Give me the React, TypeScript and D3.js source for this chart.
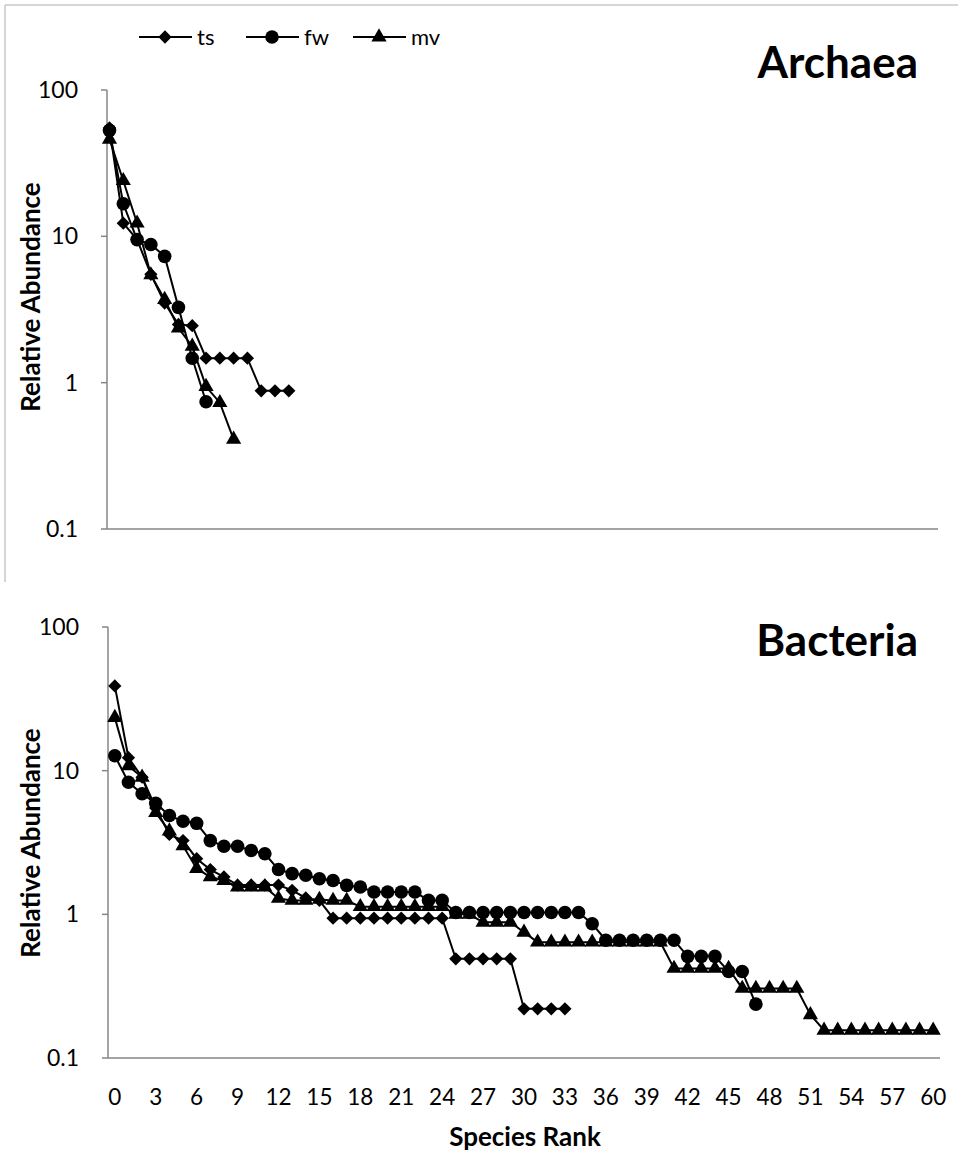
import React from "react";
import * as d3 from "d3";

// ---------- data ----------
const seriesNames = ["ts", "fw", "mv"];
const yTickValues = [100, 10, 1, 0.1];
const yTickLabels = ["100", "10", "1", "0.1"];
const xTickValues = d3.range(0, 61, 3);

// Archaea
const archaeaTs = [55, 12.3, 9.5, 5.5, 3.5, 2.5, 2.45, 1.47, 1.47, 1.47, 1.47, 0.88, 0.88, 0.88];
const archaeaFw = [53, 16.7, 9.5, 8.8, 7.3, 3.27, 1.47, 0.74];
const archaeaMv = [46, 24, 12.3, 5.45, 3.7, 2.36, 1.77, 0.94, 0.73, 0.41];

// Bacteria
const bacteriaTs = [
  38.9, 12.3, 9.0, 5.5, 3.6, 3.26, 2.44, 2.05, 1.82, 1.6, 1.6, 1.6, 1.6, 1.47, 1.3, 1.25,
  0.94, 0.94, 0.94, 0.94, 0.94, 0.94, 0.94, 0.94, 0.94,
  0.49, 0.49, 0.49, 0.49, 0.49,
  0.22, 0.22, 0.22, 0.22,
];
const bacteriaFw = [
  12.7, 8.3, 6.9, 5.93, 4.87, 4.45, 4.3, 3.26, 2.98, 2.98, 2.78, 2.64, 2.05, 1.92, 1.87,
  1.77, 1.72, 1.59, 1.55, 1.43, 1.43, 1.43, 1.43, 1.25, 1.25,
  1.03, 1.03, 1.03, 1.03, 1.03, 1.03, 1.03, 1.03, 1.03, 1.03,
  0.86, 0.66, 0.66, 0.66, 0.66, 0.66, 0.66, 0.51, 0.51, 0.51, 0.4, 0.4, 0.237,
];
const bacteriaMv = [
  23.4, 10.8, 9.0, 5.1, 3.8, 3.0, 2.08, 1.82, 1.72, 1.55, 1.55, 1.55, 1.29,
  1.25, 1.25, 1.27, 1.25, 1.25,
  1.13, 1.13, 1.13, 1.13, 1.13, 1.13, 1.13,
  1.0, 1.0, 0.88, 0.88, 0.88, 0.75,
  0.64, 0.64, 0.64, 0.64, 0.64, 0.64, 0.64, 0.64, 0.64, 0.64,
  0.42, 0.42, 0.42, 0.42, 0.42,
  0.305, 0.305, 0.305, 0.305, 0.305,
  0.2,
  0.156, 0.156, 0.156, 0.156, 0.156, 0.156, 0.156, 0.156, 0.156,
];

const FONT = "Lato, 'Open Sans', sans-serif";
const AXIS = "#868686";

const squareDiamond = {
  draw(context: any, size: number) {
    const r = Math.sqrt(size / 2);
    context.moveTo(0, -r);
    context.lineTo(r, 0);
    context.lineTo(0, r);
    context.lineTo(-r, 0);
    context.closePath();
  },
};

const symbols: any[] = [squareDiamond, d3.symbolCircle, d3.symbolTriangle];
const symbolSizes = [88, 145, 100];

function Marker({ kind, x, y }: { kind: number; x: number; y: number }) {
  const p = d3.symbol().type(symbols[kind]).size(symbolSizes[kind])() as string;
  return <path d={p} transform={`translate(${x},${y})`} fill="#000" />;
}

function Series({ values, kind, x, y }: { values: number[]; kind: number; x: (i: number) => number; y: d3.ScaleLogarithmic<number, number> }) {
  const line = d3
    .line<number>()
    .x((_, i) => x(i))
    .y((v) => y(v));
  return (
    <g>
      <path d={line(values) as string} fill="none" stroke="#000" strokeWidth={2} />
      {values.map((v, i) => (
        <Marker key={i} kind={kind} x={x(i)} y={y(v)} />
      ))}
    </g>
  );
}

function YAxis({ y, x0, yLabelMid }: { y: d3.ScaleLogarithmic<number, number>; x0: number; yLabelMid: number }) {
  const [d0, d1] = y.domain();
  return (
    <g>
      <line x1={x0} x2={x0} y1={y(d1)} y2={y(d0)} stroke={AXIS} strokeWidth={1.5} />
      {yTickValues.map((t, i) => (
        <g key={t}>
          <line x1={x0 - 6} x2={x0} y1={y(t)} y2={y(t)} stroke={AXIS} strokeWidth={1.5} />
          <text x={x0 - 29} y={y(t)} dy="0.35em" textAnchor="end" fontFamily={FONT} fontSize={23} fill="#000">
            {yTickLabels[i]}
          </text>
        </g>
      ))}
      <text
        transform={`translate(40,${yLabelMid}) rotate(-90)`}
        textAnchor="middle"
        fontFamily={FONT}
        fontWeight="bold"
        fontSize={26}
        fill="#000"
      >
        Relative Abundance
      </text>
    </g>
  );
}

export default function App() {
  // top chart (Archaea)
  const yTop = d3.scaleLog().domain([0.1, 100]).range([529, 90]);
  const xTop = d3.scaleLinear().domain([0, 60]).range([109.5, 937]);
  // bottom chart (Bacteria)
  const yBot = d3.scaleLog().domain([0.1, 100]).range([1058, 627]);
  const xBand = d3
    .scaleBand<number>()
    .domain(d3.range(0, 61))
    .range([108, 940]);
  const xBot = (i: number) => (xBand(i) as number) + xBand.bandwidth() / 2;

  const topData = [archaeaTs, archaeaFw, archaeaMv];
  const botData = [bacteriaTs, bacteriaFw, bacteriaMv];

  const legendX = [139, 246, 353];

  return (
    <svg width={958} height={1155} style={{ position: "absolute", left: 0, top: 0, background: "#fff" }}>
      <rect x={0} y={0} width={958} height={1155} fill="#fff" />
      {/* panel border of top chart */}
      <line x1={5} x2={958} y1={5} y2={5} stroke="#c8c8c8" strokeWidth={1.5} />
      <line x1={5} x2={5} y1={5} y2={582} stroke="#c8c8c8" strokeWidth={1.5} />

      {/* legend */}
      {seriesNames.map((name, k) => (
        <g key={name}>
          <line x1={legendX[k]} x2={legendX[k] + 53} y1={37} y2={37} stroke="#000" strokeWidth={2} />
          <Marker kind={k} x={legendX[k] + 26} y={37} />
          <text x={legendX[k] + 58} y={37} dy="0.35em" fontFamily={FONT} fontSize={22} fill="#000">
            {name}
          </text>
        </g>
      ))}

      {/* ---- Archaea ---- */}
      <text x={918} y={78} textAnchor="end" fontFamily={FONT} fontWeight="bold" fontSize={44} fill="#000">
        Archaea
      </text>
      <YAxis y={yTop} x0={107} yLabelMid={297} />
      <line x1={107} x2={938} y1={529} y2={529} stroke={AXIS} strokeWidth={1.5} />
      {topData.map((vals, k) => (
        <Series key={k} values={vals} kind={k} x={(i) => xTop(i)} y={yTop} />
      ))}

      {/* ---- Bacteria ---- */}
      <text x={918} y={656} textAnchor="end" fontFamily={FONT} fontWeight="bold" fontSize={44} fill="#000">
        Bacteria
      </text>
      <YAxis y={yBot} x0={108} yLabelMid={843} />
      <line x1={108} x2={940} y1={1058} y2={1058} stroke={AXIS} strokeWidth={1.5} />
      {xTickValues.map((t) => (
        <text key={t} x={xBot(t)} y={1097} dy="0.35em" textAnchor="middle" fontFamily={FONT} fontSize={22.5} fill="#000">
          {t}
        </text>
      ))}
      <text x={525} y={1137} dy="0.35em" textAnchor="middle" fontFamily={FONT} fontWeight="bold" fontSize={26} fill="#000">
        Species Rank
      </text>
      {botData.map((vals, k) => (
        <Series key={k} values={vals} kind={k} x={xBot} y={yBot} />
      ))}
    </svg>
  );
}
